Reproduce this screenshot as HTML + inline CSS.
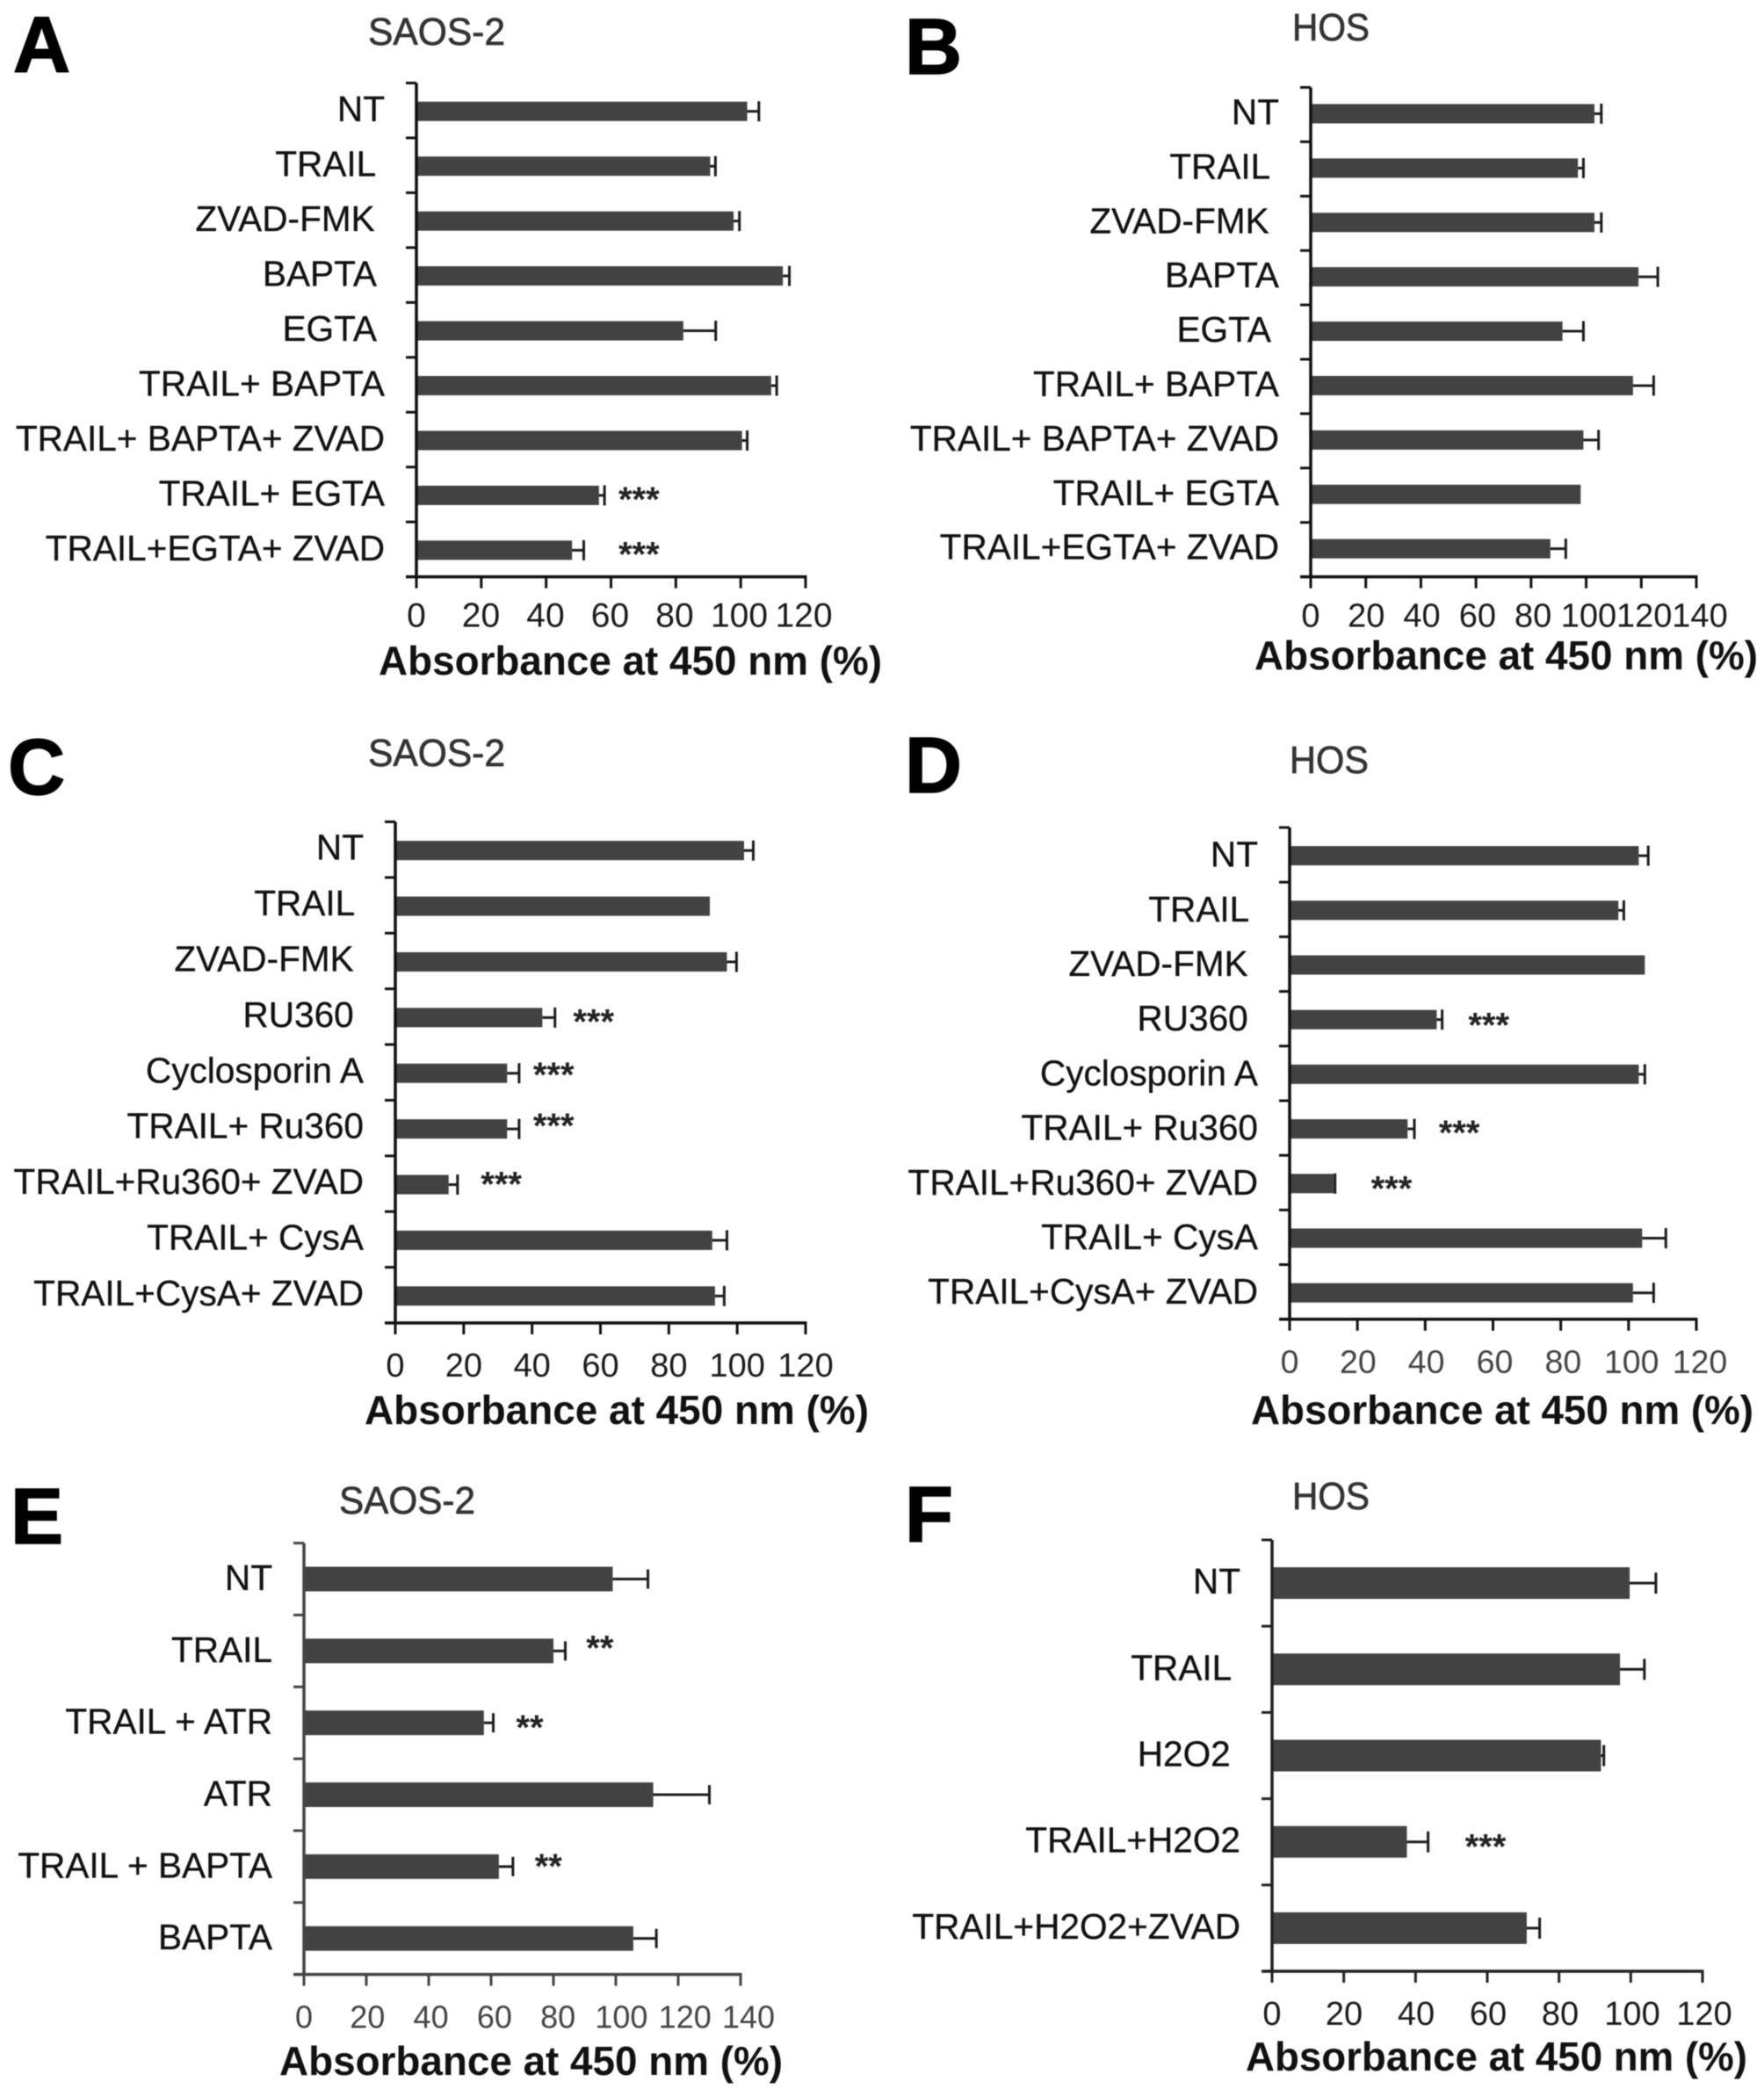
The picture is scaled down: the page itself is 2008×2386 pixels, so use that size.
<!DOCTYPE html>
<html lang="en">
<head>
<meta charset="utf-8">
<title>Absorbance at 450 nm panels A-F</title>
<style>
  html, body { margin: 0; padding: 0; background: #fff; }
  svg { display: block; filter: blur(0.6px); }
  text { white-space: pre; font-family: "Liberation Sans", Arial, sans-serif; }
</style>
</head>
<body>
<svg id="figure" xmlns="http://www.w3.org/2000/svg" width="2008" height="2386" viewBox="0 0 2008 2386">
  <rect x="0" y="0" width="2008" height="2386" fill="#ffffff"/>
</svg>
<script>
// Panel A
const categoriesA = ["NT", "TRAIL ", "ZVAD-FMK ", "BAPTA ", "EGTA ", "TRAIL+ BAPTA", "TRAIL+ BAPTA+ ZVAD", "TRAIL+ EGTA", "TRAIL+EGTA+ ZVAD"];
const meansA = [102, 90.6, 97.8, 113, 82.3, 109.4, 100.4, 56.3, 48];
const errorsA = [3.6, 1.6, 1.8, 2, 10, 1.7, 1.6, 1.7, 3.6];
const ticksA = [0, 20, 40, 60, 80, 100, 120];
// Panel B
const categoriesB = ["NT", "TRAIL ", "ZVAD-FMK ", "BAPTA", "EGTA ", "TRAIL+ BAPTA", "TRAIL+ BAPTA+ ZVAD", "TRAIL+ EGTA", "TRAIL+EGTA+ ZVAD"];
const meansB = [103, 97, 103, 119, 91.4, 117, 99, 98, 87];
const errorsB = [2.5, 2, 2.5, 7, 7.6, 7.5, 5.5, 0, 5.6];
const ticksB = [0, 20, 40, 60, 80, 100, 120, 140];
// Panel C
const categoriesC = ["NT", "TRAIL ", "ZVAD-FMK ", "RU360 ", "Cyclosporin A", "TRAIL+ Ru360", "TRAIL+Ru360+ ZVAD", "TRAIL+ CysA", "TRAIL+CysA+ ZVAD"];
const meansC = [102, 92, 97, 43, 32.7, 32.7, 15.6, 92.7, 93.5];
const errorsC = [2.7, 0, 2.8, 3.7, 3.5, 3.5, 2.6, 4.3, 2.7];
const ticksC = [0, 20, 40, 60, 80, 100, 120];
// Panel D
const categoriesD = ["NT", "TRAIL ", "ZVAD-FMK ", "RU360 ", "Cyclosporin A", "TRAIL+ Ru360", "TRAIL+Ru360+ ZVAD", "TRAIL+ CysA", "TRAIL+CysA+ ZVAD"];
const meansD = [103, 97, 104.8, 43.4, 103, 34.8, 13, 104, 101.3];
const errorsD = [2.8, 1.6, 0, 1.6, 1.8, 2, 0.4, 7, 6.1];
const ticksD = [0, 20, 40, 60, 80, 100, 120];
// Panel E
const categoriesE = ["NT", "TRAIL", "TRAIL + ATR", "ATR", "TRAIL + BAPTA", "BAPTA"];
const meansE = [99, 80, 57.7, 112, 62.5, 105.6];
const errorsE = [11.3, 3.8, 3, 18, 4.5, 7.4];
const ticksE = [0, 20, 40, 60, 80, 100, 120, 140];
// Panel F
const categoriesF = ["NT", "TRAIL ", "H2O2 ", "TRAIL+H2O2", "TRAIL+H2O2+ZVAD"];
const meansF = [99.7, 97, 91.7, 37.6, 71];
const errorsF = [7.3, 6.8, 0.8, 5.9, 3.6];
const ticksF = [0, 20, 40, 60, 80, 100, 120];

const SVG_NS = "http://www.w3.org/2000/svg";
const figure = document.getElementById("figure");

function slug(s) {
  return s.trim().toLowerCase().replace(/[^a-z0-9]+/g, "-");
}

function make(parent, tag, attrs, content) {
  const node = document.createElementNS(SVG_NS, tag);
  for (const key in attrs) node.setAttribute(key, attrs[key]);
  if (content !== undefined) node.textContent = content;
  parent.appendChild(node);
  return node;
}

function drawPanel(p) {
  const group = make(figure, "g", {});
  
  

  const xScale = v => p.x0 + (v - p.ticks[0]) / (p.ticks[p.ticks.length - 1] - p.ticks[0]) * (p.x1 - p.x0);
  const band = (p.yBottom - p.yTop) / p.categories.length;
  const yCenter = i => p.yTop + band * (i + 0.5);
  p.xScale = xScale;
  p.yCenter = yCenter;
  p.group = group;

  const letter = make(group, "text", { x: p.letterX, y: p.letterY, "font-size": p.letterSize, "font-weight": "bold", fill: "#000", stroke: "#000", "stroke-width": 1.5 }, p.letter);
  
  

  const heading = make(group, "text", { x: p.headX, y: p.headY, "font-size": 44, fill: "#333", stroke: "#333", "stroke-width": 0.7, textLength: p.headW, lengthAdjust: "spacingAndGlyphs" }, p.head);
  
  

  // bars and error bars first so that the axis sits on top
  p.categories.forEach((cat, i) => {
    const cy = yCenter(i) + p.barDy;
    const end = xScale(p.means[i]);
    const bar = make(group, "rect", { x: p.x0, y: cy - p.barH / 2, width: end - p.x0, height: p.barH, fill: "#424242" });
    
    

    if (p.errors[i] > 0) {
      const tip = xScale(p.means[i] + p.errors[i]);
      const stem = make(group, "line", { x1: end, x2: tip, y1: cy, y2: cy, stroke: "#1c1c1c", "stroke-width": 3 });
      
      
      const cap = make(group, "line", { x1: tip, x2: tip, y1: cy - p.capH / 2, y2: cy + p.capH / 2, stroke: "#1c1c1c", "stroke-width": 3 });
      
      
    }

    const label = make(group, "text", { x: p.x0 - 36, y: yCenter(i) + 14 + p.labelDy, "text-anchor": "end", "font-size": 40.6, fill: "#111", stroke: "#111", "stroke-width": 0.3 }, cat);
    
    
  });

  const yAxis = make(group, "line", { x1: p.x0, x2: p.x0, y1: p.yTop, y2: p.yBottom, stroke: p.axisColor, "stroke-width": 3.5 });
  
  

  const xAxis = make(group, "line", { x1: p.x0 - 12, x2: p.x1 + 1.5, y1: p.yBottom, y2: p.yBottom, stroke: p.axisColor, "stroke-width": 3.5 });
  
  

  for (let i = 0; i < p.categories.length; i++) {
    const yy = p.yTop + band * i;
    const yTick = make(group, "line", { x1: p.x0 - 12, x2: p.x0, y1: yy, y2: yy, stroke: p.axisColor, "stroke-width": 3 });
    
    
  }

  p.ticks.forEach(t => {
    const xx = xScale(t);
    const xTick = make(group, "line", { x1: xx, x2: xx, y1: p.yBottom, y2: p.yBottom + 13, stroke: p.axisColor, "stroke-width": 3 });
    
    
    const tickLabel = make(group, "text", { x: xx - p.tickShift * (t / p.ticks[p.ticks.length - 1]), y: p.yBottom + p.tickDy, "text-anchor": "middle", "font-size": p.tickSize, fill: p.tickColor }, String(t));
    
    
  });

  const axisTitle = make(group, "text", { x: p.titleX, y: p.titleY, "font-size": 46, "font-weight": "bold", fill: "#111", textLength: p.titleW, lengthAdjust: "spacingAndGlyphs" }, "Absorbance at 450 nm (%)");
  
  
}

function annotate(p, index, stars, value, dy) {
  const mark = make(p.group, "text", { x: p.xScale(value), y: p.yCenter(index) + dy + 19, "font-size": 40, "font-weight": "bold", fill: "#222" }, stars);
  
  
}

const panelA = { letter: "A", categories: categoriesA, means: meansA, errors: errorsA, ticks: ticksA,
  x0: 474, x1: 917, yTop: 94.5, yBottom: 656.6, barH: 22, capH: 23, barDy: 1, labelDy: -1.5, axisColor: "#111", tickColor: "#1a1a1a",
  tickSize: 39, tickDy: 57, tickShift: 2, letterX: 15, letterY: 82, letterSize: 90,
  head: "SAOS-2", headX: 419, headY: 51, headW: 156, titleX: 431, titleY: 768, titleW: 573 };
const panelB = { letter: "B", categories: categoriesB, means: meansB, errors: errorsB, ticks: ticksB,
  x0: 1492, x1: 1931, yTop: 99.5, yBottom: 656.6, barH: 22, capH: 23, barDy: -1, labelDy: -3, axisColor: "#111", tickColor: "#1a1a1a",
  tickSize: 38, tickDy: 57, tickShift: -4, letterX: 1030, letterY: 84, letterSize: 90,
  head: "HOS", headX: 1471, headY: 46, headW: 88, titleX: 1428, titleY: 762, titleW: 573 };
const panelC = { letter: "C", categories: categoriesC, means: meansC, errors: errorsC, ticks: ticksC,
  x0: 450, x1: 917, yTop: 935.5, yBottom: 1506, barH: 22, capH: 23, barDy: 1, labelDy: -2.5, axisColor: "#111", tickColor: "#1a1a1a",
  tickSize: 38, tickDy: 61, tickShift: 0, letterX: 9, letterY: 904, letterSize: 90,
  head: "SAOS-2", headX: 419, headY: 872, headW: 156, titleX: 415, titleY: 1621, titleW: 574 };
const panelD = { letter: "D", categories: categoriesD, means: meansD, errors: errorsD, ticks: ticksD,
  x0: 1468, x1: 1931, yTop: 942, yBottom: 1501.8, barH: 22, capH: 23, barDy: 1, labelDy: -0.5, axisColor: "#111", tickColor: "#444",
  tickSize: 37.5, tickDy: 61, tickShift: -4, letterX: 1030, letterY: 902, letterSize: 90,
  head: "HOS", headX: 1468, headY: 880, headW: 90, titleX: 1424, titleY: 1621, titleW: 572 };
const panelE = { letter: "E", categories: categoriesE, means: meansE, errors: errorsE, ticks: ticksE,
  x0: 346, x1: 843, yTop: 1756.6, yBottom: 2247.6, barH: 28, capH: 22, barDy: 0, labelDy: -1.5, axisColor: "#444", tickColor: "#444",
  tickSize: 36, tickDy: 61, tickShift: -9, letterX: 12, letterY: 1757, letterSize: 90,
  head: "SAOS-2", headX: 386, headY: 1723, headW: 155, titleX: 318, titleY: 2362, titleW: 573 };
const panelF = { letter: "F", categories: categoriesF, means: meansF, errors: errorsF, ticks: ticksF,
  x0: 1448, x1: 1938, yTop: 1753, yBottom: 2244, barH: 36, capH: 24, barDy: 0, labelDy: -2, axisColor: "#222", tickColor: "#1a1a1a",
  tickSize: 38, tickDy: 61, tickShift: -2, letterX: 1030, letterY: 1755, letterSize: 90,
  head: "HOS", headX: 1471, headY: 1718, headW: 88, titleX: 1418, titleY: 2357, titleW: 571 };

[panelA, panelB, panelC, panelD, panelE, panelF].forEach(drawPanel);

annotate(panelA, 7, "***", 62.3, 0);
annotate(panelA, 8, "***", 62.3, 0);
annotate(panelC, 3, "***", 52, 0);
annotate(panelC, 4, "***", 40.3, -3);
annotate(panelC, 5, "***", 40.3, -8);
annotate(panelC, 6, "***", 25, -5);
annotate(panelD, 3, "***", 52.7, 2);
annotate(panelD, 5, "***", 44, 0);
annotate(panelD, 6, "***", 24, 1);
annotate(panelE, 1, "**", 90.5, -9);
annotate(panelE, 2, "**", 68, 0);
annotate(panelE, 4, "**", 74, -6);
annotate(panelF, 3, "***", 53.8, 0);
</script>
</body>
</html>
